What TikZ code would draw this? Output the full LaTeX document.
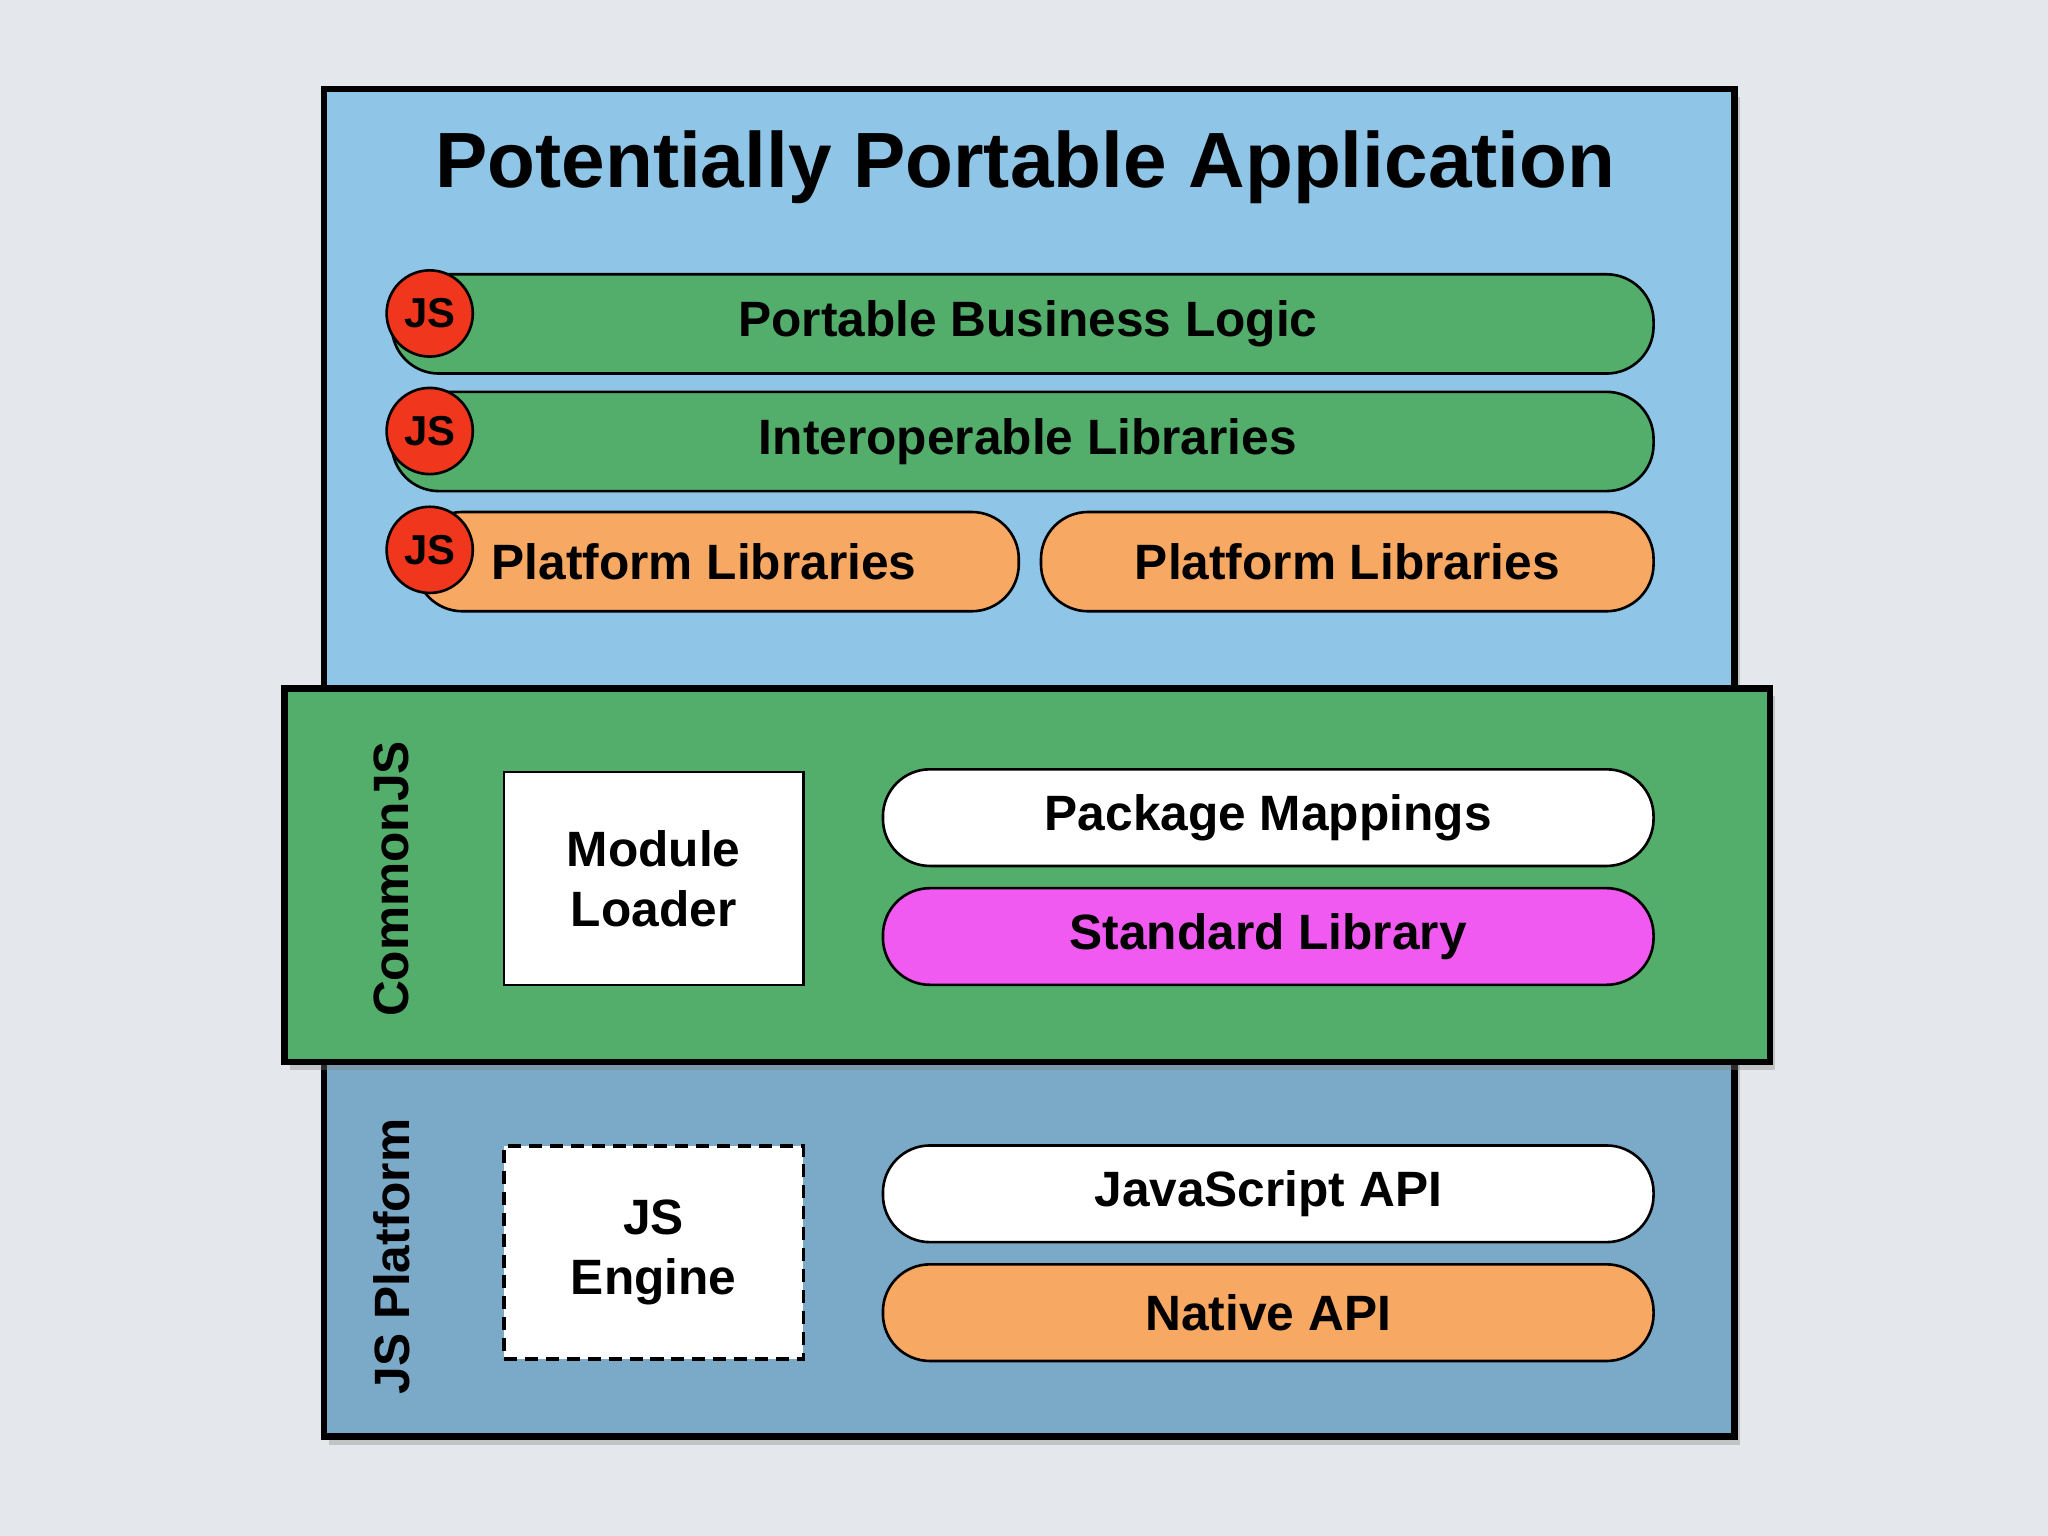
\documentclass[tikz,border=0pt]{standalone}
\usepackage{fontspec}
\setmainfont{Liberation Sans}
\usetikzlibrary{shadows}
\definecolor{bg}{HTML}{E4E7EB}
\definecolor{topblue}{HTML}{8FC5E6}
\definecolor{grn}{HTML}{52AE6A}
\definecolor{botblue}{HTML}{7BA9C8}
\definecolor{jsred}{HTML}{F0361C}
\definecolor{orng}{HTML}{F7A862}
\definecolor{mag}{HTML}{F05AF0}
\begin{document}
\begin{tikzpicture}[x=0.5pt,y=-0.5pt,
  layer/.style={draw=black,line width=2.5pt,drop shadow={shadow xshift=2pt,shadow yshift=-3pt,opacity=0.35}},
  pill/.style={draw=black,line width=1pt,rounded corners=18pt,inner sep=0pt,
     font=\bfseries\fontsize{19}{22}\selectfont},
  js/.style={circle,draw=black,line width=1pt,fill=jsred,minimum size=33pt,inner sep=0pt,
     font=\bfseries\fontsize{16}{18}\selectfont},
  box/.style={draw=black,line width=1pt,fill=white,minimum width=114.5pt,minimum height=81.5pt,
     align=center,font=\bfseries\fontsize{19}{23}\selectfont},
  side/.style={rotate=90,font=\bfseries\fontsize{19}{22}\selectfont}]
\fill[bg] (0,0) rectangle (1568,1176);
\useasboundingbox (0,0) rectangle (1568,1176);
% layers
\path[layer,fill=botblue] (248,790) rectangle (1328,1100);
\path[layer,fill=topblue] (248,68) rectangle (1328,530);
\path[layer,fill=grn] (218,527) rectangle (1355,813);
\node (title) at (785,128) {\bfseries\fontsize{30}{36}\selectfont Potentially Portable Application};
% top pills
\node[pill,fill=grn,minimum width=483pt,minimum height=38pt] (pbl) at (783,248) {\hspace*{4pt}Portable Business Logic};
\node[pill,fill=grn,minimum width=483pt,minimum height=38pt] (il) at (783,338) {\hspace*{4pt}Interoperable Libraries};
\node[pill,fill=orng,minimum width=231pt,minimum height=38pt] (pl1) at (549,430) {\hspace*{-10pt}Platform Libraries};
\node[pill,fill=orng,minimum width=234.5pt,minimum height=38pt] (pl2) at (1031.5,430) {Platform Libraries};
\node[js] (js1) at (329,240) {JS};
\node[js] (js2) at (329,330) {JS};
\node[js] (js3) at (329,421) {JS};
% CommonJS
\node[side] (cjs) at (300,673) {CommonJS};
\node[box] (ml) at (500.5,672.5) {Module\\Loader};
\node[pill,fill=white,minimum width=295pt,minimum height=37pt] (pm) at (971,626) {Package Mappings};
\node[pill,fill=mag,minimum width=295pt,minimum height=37pt] (sl) at (971,717) {Standard Library};
% JS Platform
\node[side] (jsp) at (300,962) {JS Platform};
\node[box,line width=1.3pt,dash pattern=on 5pt off 3pt] (eng) at (500.5,959) {JS\\Engine};
\node[pill,fill=white,minimum width=295pt,minimum height=37pt] (api) at (971,914) {JavaScript API};
\node[pill,fill=orng,minimum width=295pt,minimum height=37pt] (nat) at (971,1005) {Native API};
\end{tikzpicture}
\end{document}
